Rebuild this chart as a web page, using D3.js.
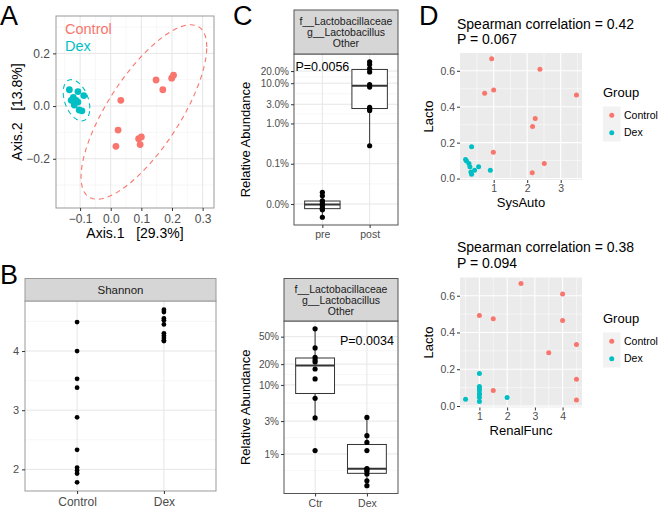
<!DOCTYPE html>
<html>
<head>
<meta charset="utf-8">
<script src="https://cdn.jsdelivr.net/npm/d3@7"></script>
<style>
body { margin: 0; background: #fff; }
text { font-family: "Liberation Sans", Arial, Helvetica, sans-serif; }
</style>
</head>
<body>
<div id="fig"></div>
<script>
// ---------- data ----------
var groups = ["Control", "Dex"];
var groupColors = ["#F8766D", "#00BFC4"];

// A: PCoA
var pcoaCtrlX = [0.148, 0.170, 0.199, 0.205, 0.033, 0.024, 0.017, 0.091, 0.100, 0.096];
var pcoaCtrlY = [0.099, 0.062, 0.106, 0.117, 0.022, -0.091, -0.153, -0.124, -0.117, -0.146];
var pcoaDexX = [-0.135, -0.107, -0.088, -0.122, -0.113, -0.129, -0.119, -0.103, -0.094, -0.107];
var pcoaDexY = [0.062, 0.055, 0.040, 0.033, 0.022, 0.022, 0.004, -0.015, -0.018, 0.015];
var pcoaXTicks = [-0.1, 0, 0.1, 0.2, 0.3];
var pcoaYTicks = [-0.2, 0, 0.2];
var pcoaTitles = ["Axis.1   [29.3%]", "Axis.2   [13.8%]"];

// B: Shannon
var shannonCats = ["Control", "Dex"];
var shannonCtrl = [4.49, 4.00, 3.53, 3.38, 2.88, 2.33, 2.03, 1.98, 1.93, 1.78];
var shannonDex = [4.70, 4.66, 4.55, 4.52, 4.45, 4.30, 4.26, 4.22, 4.18, 4.17];
var shannonTicks = [2, 3, 4];

// C: relative abundance
var stripLines = ["f__Lactobacillaceae", "g__Lactobacillus", "Other"];
var cTopCats = ["pre", "post"];
var cTopPre = [4.7e-5, 7.2e-5, 7.6e-5, 7.9e-5, 9.2e-5, 1.02e-4, 1.15e-4, 1.2e-4, 1.6e-4, 1.95e-4];
var cTopPost = [0.0028, 0.021, 0.023, 0.025, 0.08, 0.092, 0.19, 0.23, 0.29, 0.34];
var cTopTicks = [0.0001, 0.001, 0.01, 0.03, 0.1, 0.2];
var cTopP = "P=0.0056";
var cBotCats = ["Ctr", "Dex"];
var cBotCtr = [0.0112, 0.0333, 0.064, 0.122, 0.17, 0.215, 0.23, 0.251, 0.344, 0.649];
var cBotDex = [0.00348, 0.0041, 0.00513, 0.00562, 0.00603, 0.00617, 0.0112, 0.0147, 0.0184, 0.0339];
var cBotTicks = [0.01, 0.03, 0.1, 0.2, 0.5];
var cBotP = "P=0.0034";

// D: correlations
var lactoCtrl = [0.667, 0.609, 0.493, 0.475, 0.465, 0.335, 0.290, 0.146, 0.084, 0.032];
var sysAutoCtrl = [0.94, 2.38, 1.0, 0.73, 3.47, 2.24, 2.16, 0.99, 2.51, 2.15];
var renalCtrl = [2.5, 4.0, 1.0, 1.5, 4.0, 4.5, 3.5, 4.5, 1.5, 4.5];
var lactoDex = [0.177, 0.106, 0.098, 0.084, 0.065, 0.065, 0.046, 0.046, 0.037, 0.024];
var sysAutoDex = [0.34, 0.16, 0.19, 0.26, 0.29, 0.55, 0.43, 0.90, 0.32, 0.34];
var renalDex = [1, 1, 1, 1, 1, 1, 2, 1, 0.5, 1];
var lactoTicks = [0, 0.2, 0.4, 0.6];
var sysAutoTicks = [1, 2, 3];
var renalTicks = [1, 2, 3, 4];
var corrTitles = [["Spearman correlation = 0.42", "P = 0.067"], ["Spearman correlation = 0.38", "P = 0.094"]];

// ---------- helpers ----------
var svg = d3.select("#fig").append("svg")
    .attr("width", 660)
    .attr("height", 508);

function expand(ext, f) {
    var r = ext[1] - ext[0];
    return [ext[0] - r * (f || 0.05), ext[1] + r * (f || 0.05)];
}

//confidence ellipse like ggplot stat_ellipse (normal, level 0.95)
function ellipse(xs, ys, level) {
    var n = xs.length, mx = d3.mean(xs), my = d3.mean(ys);
    var sxx = d3.sum(xs, function (x) { return (x - mx) * (x - mx); }) / (n - 1);
    var syy = d3.sum(ys, function (y) { return (y - my) * (y - my); }) / (n - 1);
    var sxy = d3.sum(xs.map(function (x, i) { return (x - mx) * (ys[i] - my); })) / (n - 1);
    var dfd = n - 1;
    var f = dfd / 2 * (Math.pow(1 - level, -2 / dfd) - 1);
    var r = Math.sqrt(2 * f);
    var r11 = Math.sqrt(sxx), r12 = sxy / r11, r22 = Math.sqrt(syy - r12 * r12);
    return d3.range(0, 61).map(function (i) {
        var t = 2 * Math.PI * i / 60, c = Math.cos(t), s = Math.sin(t);
        return [mx + r * c * r11, my + r * (c * r12 + s * r22)];
    });
}

function styleAxis(sel, size) {
    sel.select(".domain").remove();
    sel.selectAll(".tick line").attr("stroke", "#333");
    sel.selectAll(".tick text").attr("fill", "#4D4D4D").style("font-size", size + "px");
}

function hGrid(g, scale, vals, x0, x1, color, w) {
    g.append("g").selectAll("line").data(vals).enter().append("line")
        .attr("x1", x0).attr("x2", x1)
        .attr("y1", function (d) { return scale(d); })
        .attr("y2", function (d) { return scale(d); })
        .attr("stroke", color).attr("stroke-width", w);
}

function vGrid(g, scale, vals, y0, y1, color, w) {
    g.append("g").selectAll("line").data(vals).enter().append("line")
        .attr("y1", y0).attr("y2", y1)
        .attr("x1", function (d) { return scale(d); })
        .attr("x2", function (d) { return scale(d); })
        .attr("stroke", color).attr("stroke-width", w);
}

function mids(vals) {
    var out = [];
    for (var i = 0; i < vals.length - 1; i++) out.push((vals[i] + vals[i + 1]) / 2);
    return out;
}

function panelLetter(txt, x, y) {
    svg.append("text").attr("x", x).attr("y", y).text(txt)
        .style("font-size", "27px").attr("fill", "#000");
}

// ---------- A: PCoA ----------
var gA = svg.append("g");
var ellCtrl = ellipse(pcoaCtrlX, pcoaCtrlY, 0.95);
var ellDex = ellipse(pcoaDexX, pcoaDexY, 0.95);
var allAX = pcoaCtrlX.concat(pcoaDexX, ellCtrl.map(function (p) { return p[0]; }), ellDex.map(function (p) { return p[0]; }));
var allAY = pcoaCtrlY.concat(pcoaDexY, ellCtrl.map(function (p) { return p[1]; }), ellDex.map(function (p) { return p[1]; }));
var A = { x0: 56, x1: 214, y0: 16, y1: 208 };
var xA = d3.scaleLinear().domain(expand(d3.extent(allAX))).range([A.x0, A.x1]);
var yA = d3.scaleLinear().domain(expand(d3.extent(allAY))).range([A.y1, A.y0]);

gA.append("rect").attr("x", A.x0).attr("y", A.y0).attr("width", A.x1 - A.x0).attr("height", A.y1 - A.y0).attr("fill", "#fff");
vGrid(gA, xA, [-0.15, -0.05, 0.05, 0.15, 0.25], A.y0, A.y1, "#F2F2F2", 0.6);
hGrid(gA, yA, [-0.3, -0.1, 0.1, 0.3], A.x0, A.x1, "#F2F2F2", 0.6);
vGrid(gA, xA, pcoaXTicks, A.y0, A.y1, "#E6E6E6", 1);
hGrid(gA, yA, pcoaYTicks, A.x0, A.x1, "#E6E6E6", 1);

var line = d3.line().x(function (d) { return xA(d[0]); }).y(function (d) { return yA(d[1]); });
[ellCtrl, ellDex].forEach(function (e, i) {
    gA.append("path").attr("d", line(e)).attr("fill", "none")
        .attr("stroke", groupColors[i]).attr("stroke-width", 1.1)
        .attr("stroke-dasharray", "5,4");
});
[[pcoaCtrlX, pcoaCtrlY], [pcoaDexX, pcoaDexY]].forEach(function (s, i) {
    gA.append("g").selectAll("circle").data(s[0]).enter().append("circle")
        .attr("cx", function (d) { return xA(d); })
        .attr("cy", function (d, j) { return yA(s[1][j]); })
        .attr("r", 3.4).attr("fill", groupColors[i]);
});
gA.append("rect").attr("x", A.x0).attr("y", A.y0).attr("width", A.x1 - A.x0).attr("height", A.y1 - A.y0)
    .attr("fill", "none").attr("stroke", "#999").attr("stroke-width", 1);

groups.forEach(function (g, i) {
    gA.append("text").attr("x", A.x0 + 9).attr("y", A.y0 + 18 + i * 17).text(g)
        .attr("fill", groupColors[i]).style("font-size", "14.5px");
});

var axAx = gA.append("g").attr("transform", "translate(0," + A.y1 + ")")
    .call(d3.axisBottom(xA).tickValues(pcoaXTicks).tickFormat(d3.format(".1f")).tickSize(3).tickPadding(3));
styleAxis(axAx, 12);
var axAy = gA.append("g").attr("transform", "translate(" + A.x0 + ",0)")
    .call(d3.axisLeft(yA).tickValues(pcoaYTicks).tickFormat(d3.format(".1f")).tickSize(3).tickPadding(3));
styleAxis(axAy, 12);
gA.append("text").attr("x", (A.x0 + A.x1) / 2).attr("y", 238).attr("text-anchor", "middle")
    .style("font-size", "14px").style("white-space", "pre").text(pcoaTitles[0]);
gA.append("text").attr("transform", "translate(22," + ((A.y0 + A.y1) / 2) + ") rotate(-90)")
    .attr("text-anchor", "middle").style("font-size", "14px").style("white-space", "pre").text(pcoaTitles[1]);
panelLetter("A", 0, 24.5);

// ---------- B: Shannon ----------
var gB = svg.append("g");
var B = { x0: 25, x1: 216, s0: 278.5, y0: 301, y1: 491 };
var xB = d3.scalePoint().domain(shannonCats).range([B.x0, B.x1]).padding(0.6);
var yB = d3.scaleLinear().domain(expand(d3.extent(shannonCtrl.concat(shannonDex)))).range([B.y1, B.y0]);
gB.append("rect").attr("x", B.x0).attr("y", B.y0).attr("width", B.x1 - B.x0).attr("height", B.y1 - B.y0).attr("fill", "#fff");
hGrid(gB, yB, [2.5, 3.5, 4.5], B.x0, B.x1, "#F2F2F2", 0.6);
hGrid(gB, yB, shannonTicks, B.x0, B.x1, "#E6E6E6", 1);
vGrid(gB, xB, shannonCats, B.y0, B.y1, "#E6E6E6", 1);
[shannonCtrl, shannonDex].forEach(function (vals, i) {
    gB.append("g").selectAll("circle").data(vals).enter().append("circle")
        .attr("cx", xB(shannonCats[i]))
        .attr("cy", function (d) { return yB(d); })
        .attr("r", 2.4).attr("fill", "#000");
});
gB.append("rect").attr("x", B.x0).attr("y", B.y0).attr("width", B.x1 - B.x0).attr("height", B.y1 - B.y0)
    .attr("fill", "none").attr("stroke", "#999");
gB.append("rect").attr("x", B.x0).attr("y", B.s0).attr("width", B.x1 - B.x0).attr("height", B.y0 - B.s0)
    .attr("fill", "#D6D6D6").attr("stroke", "#999");
gB.append("text").attr("x", (B.x0 + B.x1) / 2).attr("y", B.s0 + 15.5).attr("text-anchor", "middle")
    .style("font-size", "11.5px").attr("fill", "#1A1A1A").text("Shannon");
var axBx = gB.append("g").attr("transform", "translate(0," + B.y1 + ")")
    .call(d3.axisBottom(xB).tickSize(3).tickPadding(3));
styleAxis(axBx, 12);
var axBy = gB.append("g").attr("transform", "translate(" + B.x0 + ",0)")
    .call(d3.axisLeft(yB).tickValues(shannonTicks).tickFormat(d3.format("d")).tickSize(3).tickPadding(3));
styleAxis(axBy, 11);
panelLetter("B", 0, 284);

// ---------- C: boxplots ----------
function boxStats(vals) {
    var t = vals.map(Math.log10).sort(d3.ascending);
    var q1 = d3.quantile(t, 0.25), med = d3.quantile(t, 0.5), q3 = d3.quantile(t, 0.75), iqr = q3 - q1;
    var lo = d3.min(t.filter(function (v) { return v >= q1 - 1.5 * iqr; }));
    var hi = d3.max(t.filter(function (v) { return v <= q3 + 1.5 * iqr; }));
    var p = function (v) { return Math.pow(10, v); };
    return { q1: p(q1), med: p(med), q3: p(q3), lo: p(lo), hi: p(hi) };
}

function boxPanel(P, cats, series, ticks, fmt, pText, pCat, pVal) {
    var g = svg.append("g");
    var all = series[0].concat(series[1]).map(Math.log10);
    var dom = expand(d3.extent(all)).map(function (v) { return Math.pow(10, v); });
    var x = d3.scalePoint().domain(cats).range([P.x0, P.x1]).padding(0.6);
    var y = d3.scaleLog().domain(dom).range([P.y1, P.y0]);
    var step = x.step();

    g.append("rect").attr("x", P.x0).attr("y", P.y0).attr("width", P.x1 - P.x0).attr("height", P.y1 - P.y0).attr("fill", "#fff");
    var lt = ticks.map(Math.log10);
    var minor = mids(lt);
    minor.push(lt[0] - (lt[1] - lt[0]) / 2);
    minor = minor.map(function (v) { return Math.pow(10, v); })
        .filter(function (v) { return v > dom[0] && v < dom[1]; });
    hGrid(g, y, minor, P.x0, P.x1, "#F2F2F2", 0.6);
    hGrid(g, y, ticks, P.x0, P.x1, "#E6E6E6", 1);
    vGrid(g, x, cats, P.y0, P.y1, "#E6E6E6", 1);

    series.forEach(function (vals, i) {
        var s = boxStats(vals), cx = x(cats[i]), bw = step * 0.75;
        var bg = g.append("g");
        bg.append("line").attr("x1", cx).attr("x2", cx).attr("y1", y(s.hi)).attr("y2", y(s.q3)).attr("stroke", "#333");
        bg.append("line").attr("x1", cx).attr("x2", cx).attr("y1", y(s.q1)).attr("y2", y(s.lo)).attr("stroke", "#333");
        bg.append("rect").attr("x", cx - bw / 2).attr("y", y(s.q3)).attr("width", bw).attr("height", y(s.q1) - y(s.q3))
            .attr("fill", "#fff").attr("stroke", "#333");
        bg.append("line").attr("x1", cx - bw / 2).attr("x2", cx + bw / 2).attr("y1", y(s.med)).attr("y2", y(s.med))
            .attr("stroke", "#333").attr("stroke-width", 2);
        bg.selectAll("circle").data(vals).enter().append("circle")
            .attr("cx", cx).attr("cy", function (d) { return y(d); })
            .attr("r", 2.6).attr("fill", "#000");
    });

    g.append("text").attr("x", x(pCat)).attr("y", y(pVal)).attr("dy", "0.35em").attr("text-anchor", "middle")
        .style("font-size", "12.5px").attr("fill", "#000").text(pText);

    g.append("rect").attr("x", P.x0).attr("y", P.y0).attr("width", P.x1 - P.x0).attr("height", P.y1 - P.y0)
        .attr("fill", "none").attr("stroke", "#555");
    g.append("rect").attr("x", P.x0).attr("y", P.s0).attr("width", P.x1 - P.x0).attr("height", P.y0 - P.s0)
        .attr("fill", "#D6D6D6").attr("stroke", "#555");
    var sh = (P.y0 - P.s0);
    stripLines.forEach(function (t, i) {
        g.append("text").attr("x", (P.x0 + P.x1) / 2).attr("y", P.s0 + sh / 2 + (i - 1) * 11 + 4)
            .attr("text-anchor", "middle").style("font-size", "10.5px").attr("fill", "#1A1A1A").text(t);
    });
    var ax = g.append("g").attr("transform", "translate(0," + P.y1 + ")")
        .call(d3.axisBottom(x).tickSize(3).tickPadding(3));
    styleAxis(ax, 10.5);
    var ay = g.append("g").attr("transform", "translate(" + P.x0 + ",0)")
        .call(d3.axisLeft(y).tickValues(ticks).tickFormat(d3.format(fmt)).tickSize(3).tickPadding(2));
    styleAxis(ay, 10);
    g.append("text").attr("transform", "translate(250," + ((P.y0 + P.y1) / 2) + ") rotate(-90)")
        .attr("text-anchor", "middle").style("font-size", "13px").attr("fill", "#000").text("Relative Abundance");
}

boxPanel({ x0: 294, x1: 398, s0: 10, y0: 54, y1: 225 }, cTopCats, [cTopPre, cTopPost], cTopTicks, ".1%", cTopP, "pre", 0.26);
boxPanel({ x0: 284, x1: 398, s0: 278.5, y0: 321, y1: 493.5 }, cBotCats, [cBotCtr, cBotDex], cBotTicks, ".0%", cBotP, "Dex", 0.44);
panelLetter("C", 233, 24.5);

// ---------- D: scatter ----------
function corrPanel(P, xsC, xsD, xTicks, xTitle, titles) {
    var g = svg.append("g");
    var x = d3.scaleLinear().domain(expand(d3.extent(xsC.concat(xsD)))).range([P.x0, P.x1]);
    var y = d3.scaleLinear().domain(expand(d3.extent(lactoCtrl.concat(lactoDex)))).range([P.y1, P.y0]);
    g.append("rect").attr("x", P.x0).attr("y", P.y0).attr("width", P.x1 - P.x0).attr("height", P.y1 - P.y0).attr("fill", "#EBEBEB");
    var xMinor = d3.range(0.5, 5, 1).filter(function (v) { return v > x.domain()[0] && v < x.domain()[1]; });
    var yMinor = [0.1, 0.3, 0.5].filter(function (v) { return v > y.domain()[0] && v < y.domain()[1]; });
    vGrid(g, x, xMinor, P.y0, P.y1, "#fff", 0.5);
    hGrid(g, y, yMinor, P.x0, P.x1, "#fff", 0.5);
    vGrid(g, x, xTicks, P.y0, P.y1, "#fff", 1.1);
    hGrid(g, y, lactoTicks, P.x0, P.x1, "#fff", 1.1);
    [[xsC, lactoCtrl], [xsD, lactoDex]].forEach(function (s, i) {
        g.append("g").selectAll("circle").data(s[0]).enter().append("circle")
            .attr("cx", function (d) { return x(d); })
            .attr("cy", function (d, j) { return y(s[1][j]); })
            .attr("r", 2.5).attr("fill", groupColors[i]);
    });
    var ax = g.append("g").attr("transform", "translate(0," + P.y1 + ")")
        .call(d3.axisBottom(x).tickValues(xTicks).tickFormat(d3.format("d")).tickSize(3).tickPadding(2));
    styleAxis(ax, 10.5);
    var ay = g.append("g").attr("transform", "translate(" + P.x0 + ",0)")
        .call(d3.axisLeft(y).tickValues(lactoTicks).tickFormat(d3.format(".1f")).tickSize(3).tickPadding(2));
    styleAxis(ay, 10.5);
    g.append("text").attr("x", (P.x0 + P.x1) / 2).attr("y", P.y1 + 27).attr("text-anchor", "middle")
        .style("font-size", "13px").text(xTitle);
    g.append("text").attr("transform", "translate(433," + ((P.y0 + P.y1) / 2) + ") rotate(-90)")
        .attr("text-anchor", "middle").style("font-size", "13px").text("Lacto");
    titles.forEach(function (t, i) {
        g.append("text").attr("x", 457).attr("y", P.t + i * 15.5).style("font-size", "14px").text(t);
    });
    // legend
    var lg = g.append("g");
    lg.append("text").attr("x", 603).attr("y", P.leg).style("font-size", "13px").text("Group");
    groups.forEach(function (grp, i) {
        var ky = P.leg + 9.5 + i * 17.5;
        lg.append("rect").attr("x", 603).attr("y", ky).attr("width", 17.5).attr("height", 17.5).attr("fill", "#F2F2F2");
        lg.append("circle").attr("cx", 611.75).attr("cy", ky + 8.75).attr("r", 2.5).attr("fill", groupColors[i]);
        lg.append("text").attr("x", 624).attr("y", ky + 8.75).attr("dy", "0.35em").style("font-size", "10.5px").text(grp);
    });
}

corrPanel({ x0: 460, x1: 582, y0: 53, y1: 180, t: 28.5, leg: 97 }, sysAutoCtrl, sysAutoDex, sysAutoTicks, "SysAuto", corrTitles[0]);
corrPanel({ x0: 460, x1: 582, y0: 277.5, y1: 407.5, t: 252, leg: 323 }, renalCtrl, renalDex, renalTicks, "RenalFunc", corrTitles[1]);
panelLetter("D", 419, 24.5);
</script>
</body>
</html>
